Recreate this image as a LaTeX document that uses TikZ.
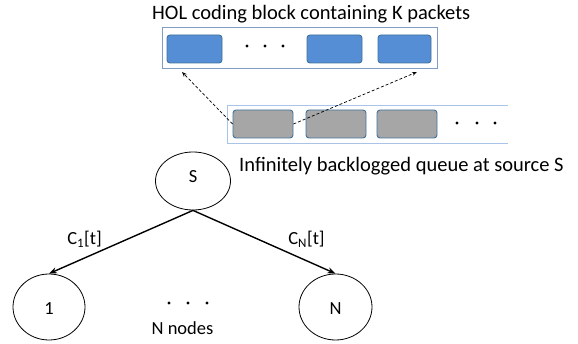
\documentclass[tikz,border=0pt]{standalone}
\usepackage{fontspec}
\setmainfont{Carlito}
\usetikzlibrary{arrows.meta,shapes.geometric}
\definecolor{pktblue}{HTML}{558ED5}
\definecolor{pktedge}{HTML}{41719C}
\definecolor{pktgray}{HTML}{A6A6A6}
\definecolor{boxedge}{HTML}{7F9DC4}
\definecolor{queueedge}{HTML}{A9C4E6}
\begin{document}
\begin{tikzpicture}[x=1pt,y=-1pt,
  bluepkt/.style={draw=pktedge,fill=pktblue,rounded corners=3pt,line width=0.9pt},
  graypkt/.style={draw=pktedge,fill=pktgray,rounded corners=3pt,line width=0.9pt},
  nodecirc/.style={draw,ellipse,line width=0.8pt,inner sep=0pt},
  biglbl/.style={font=\fontsize{20.5}{24}\selectfont,inner sep=0pt},
  lbl/.style={font=\fontsize{18.5}{22}\selectfont,inner sep=0pt},
  dotc/.style={fill=black,circle,inner sep=0pt,minimum size=3.4pt},
  link/.style={line width=1.4pt,-{Stealth[length=8pt,width=6pt]}},
  dlink/.style={densely dashed,line width=0.7pt,-{Stealth[open,length=5pt,width=4pt]}}]
\useasboundingbox (0,0) rectangle (578,344);
% top block
\draw[draw=boxedge,line width=0.8pt] (162.5,27.5) rectangle (437,68);
\node[biglbl,anchor=base west] (title) at (152,20) {HOL coding block containing K packets};
\node[bluepkt,minimum width=55pt,minimum height=28pt] (b1) at (194.5,49) {};
\node[bluepkt,minimum width=55pt,minimum height=28pt] (b2) at (334.5,49) {};
\node[bluepkt,minimum width=53pt,minimum height=28pt] (b3) at (404.5,49) {};
\node[dotc] (td1) at (247,46) {};
\node[dotc] (td2) at (265,46) {};
\node[dotc] (td3) at (283,46) {};
% queue
\draw[draw=queueedge,line width=0.8pt] (508,105.5) -- (227.5,105.5) -- (227.5,143) -- (508,143);
\node[graypkt,minimum width=60pt,minimum height=28pt] (g1) at (263,124) {};
\node[graypkt,minimum width=60pt,minimum height=28pt] (g2) at (336,124) {};
\node[graypkt,minimum width=60pt,minimum height=28pt] (g3) at (407,124) {};
\node[dotc] (qd1) at (457,123) {};
\node[dotc] (qd2) at (477,123) {};
\node[dotc] (qd3) at (495,123) {};
\coordinate (tipL) at (182,72);
\coordinate (tipR) at (417,72);
\draw[dlink] (g1.west) -- (tipL);
\draw[dlink] (g1.east) -- (tipR);
\node[biglbl,anchor=base west] (qlabel) at (239,172) {Infinitely backlogged queue at source S};
% tree
\node[nodecirc,minimum width=75pt,minimum height=58pt] (S) at (193,181) {};
\node[lbl,anchor=base] at (193,183) {S};
\node[nodecirc,minimum width=72pt,minimum height=66pt] (n1) at (49,307) {};
\node[lbl,anchor=base] at (49,315) {1};
\node[nodecirc,minimum width=73pt,minimum height=66pt] (nN) at (335.5,307) {};
\node[lbl,anchor=base] at (335.5,315) {N};
\draw[link] (S.south) -- (n1.north);
\draw[link] (S.south) -- (nN.north);
\node[lbl,anchor=base] (c1) at (84.5,245) {C\textsubscript{1}[t]};
\node[lbl,anchor=base] (cN) at (306.5,245) {C\textsubscript{N}[t]};
\node[dotc] (md1) at (169,303) {};
\node[dotc] (md2) at (188,303) {};
\node[dotc] (md3) at (207,303) {};
\node[lbl,anchor=base] (nn) at (182.5,335) {N nodes};
\end{tikzpicture}
\end{document}
